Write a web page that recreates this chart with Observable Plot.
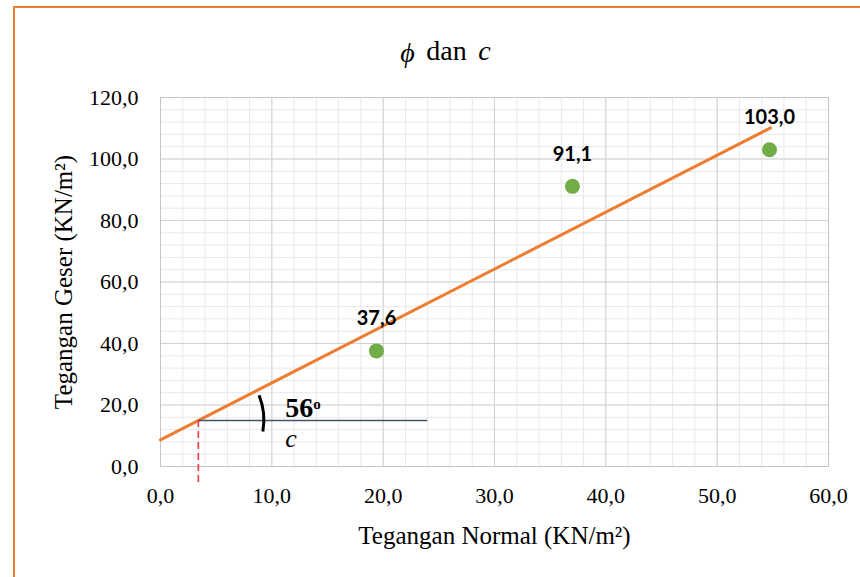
<!DOCTYPE html>
<html>
<head>
<meta charset="utf-8">
<script src="https://cdn.jsdelivr.net/npm/d3@7"></script>
<script src="https://cdn.jsdelivr.net/npm/@observablehq/plot@0.6"></script>
<style>
  html, body { margin: 0; padding: 0; background: #fff; }
  #wrap { position: relative; width: 860px; height: 577px; overflow: hidden; background: #fff; }
  #border { position: absolute; left: 13px; top: 6px; width: 900px; height: 620px;
            border-top: 2.5px solid #ED7D31; border-left: 2.5px solid #ED7D31; pointer-events: none; }
  #chart { position: absolute; left: 0; top: 0; }
</style>
</head>
<body>
<div id="wrap"><div id="chart"></div><div id="border"></div></div>
<script>
// ---- data ----
const normalStress = [19.4, 37.0, 54.7];      // x (KN/m²)
const shearStress  = [37.6, 91.1, 103.0];     // y (KN/m²)
const pointLabels  = ["37,6", "91,1", "103,0"];
const xTicks = [0, 10, 20, 30, 40, 50, 60];
const yTicks = [0, 20, 40, 60, 80, 100, 120];
const xMinorStep = 2;
const yMinorStep = 4;
const trendRange = [0, 54.8];      // trendline extent (forecast back to 0)
const cAt = 3.4;                   // x where cohesion line meets trendline
const hLineEnd = 24;               // end of horizontal reference line
const dashBottom = -5.5;           // red dashed line lower end
const angleText = "56";
const titleText = "dan";

const fmt = d => d3.format(".1f")(d).replace(".", ",");

const pts = normalStress.map((x, i) => ({x, y: shearStress[i], label: pointLabels[i]}));

// linear regression (Excel linear trendline)
const mx = d3.mean(normalStress), my = d3.mean(shearStress);
const b = d3.sum(pts, p => (p.x - mx) * (p.y - my)) / d3.sum(pts, p => (p.x - mx) ** 2);
const a = my - b * mx;
const f = x => a + b * x;
const trend = trendRange.map(x => ({x, y: f(x)}));
const cY = f(cAt);

const xMinor = d3.range(xTicks[0], xTicks[xTicks.length - 1] + 0.001, xMinorStep);
const yMinor = d3.range(yTicks[0], yTicks[yTicks.length - 1] + 0.001, yMinorStep);

const serif = "'Liberation Serif', 'Times New Roman', serif";

const arcMark = (index, {x, y}) => {
  const cx = x(cAt), cy = y(cY);
  const p = d3.path();
  p.arc(cx, cy, 66, -22 * Math.PI / 180, 10 * Math.PI / 180);
  const el = document.createElementNS("http://www.w3.org/2000/svg", "path");
  el.setAttribute("d", p.toString());
  el.setAttribute("fill", "none");
  el.setAttribute("stroke", "#000");
  el.setAttribute("stroke-width", "3");
  return el;
};

const chart = Plot.plot({
  width: 860,
  height: 577,
  marginLeft: 160,
  marginRight: 32,
  marginTop: 97,
  marginBottom: 111,
  x: {domain: [0, 60]},
  y: {domain: [0, 120]},
  style: {fontFamily: serif, fontSize: "22px", color: "#000", background: "transparent", overflow: "visible"},
  marks: [
    Plot.gridX(xMinor, {stroke: "#e8e8e8", strokeOpacity: 1, strokeWidth: 1}),
    Plot.gridY(yMinor, {stroke: "#e8e8e8", strokeOpacity: 1, strokeWidth: 1}),
    Plot.gridX(xTicks, {stroke: "#d2d2d2", strokeOpacity: 1, strokeWidth: 1}),
    Plot.gridY(yTicks, {stroke: "#d2d2d2", strokeOpacity: 1, strokeWidth: 1}),
    Plot.frame({stroke: "#c4c4c4"}),
    Plot.axisX(xTicks, {tickSize: 0, tickPadding: 21, tickFormat: fmt, label: null, fontSize: 22}),
    Plot.axisY(yTicks, {tickSize: 0, tickPadding: 22, tickFormat: fmt, label: null, fontSize: 22}),
    // axis titles
    Plot.text(["Tegangan Normal (KN/m²)"], {frameAnchor: "bottom", dy: 69, fontSize: 25, lineAnchor: "middle", textAnchor: "middle"}),
    Plot.text(["Tegangan Geser (KN/m²)"], {frameAnchor: "left", dx: -97, rotate: -90, fontSize: 25, lineAnchor: "middle", textAnchor: "middle"}),
    // title
    Plot.text([titleText], {frameAnchor: "top", dx: -48, dy: -46, fontSize: 28, lineAnchor: "middle", textAnchor: "middle"}),
    Plot.text(["ϕ"], {frameAnchor: "top", dx: -87, dy: -44, fontSize: 28, fontStyle: "italic", lineAnchor: "middle", textAnchor: "middle"}),
    Plot.text(["c"], {frameAnchor: "top", dx: -10, dy: -46, fontSize: 28, fontStyle: "italic", lineAnchor: "middle", textAnchor: "middle"}),
    // trendline
    Plot.line(trend, {x: "x", y: "y", stroke: "#ED7D31", strokeWidth: 3}),
    // cohesion construction
    Plot.ruleY([cY], {x1: cAt, x2: hLineEnd, stroke: "#44546A", strokeWidth: 1.5}),
    Plot.ruleX([cAt], {y1: cY, y2: dashBottom, stroke: "#F0393B", strokeWidth: 1.6, strokeDasharray: "7,4"}),
    arcMark,
    Plot.text([angleText], {x: () => cAt, y: () => cY, dx: 87, dy: -12, textAnchor: "start", lineAnchor: "middle", fontSize: 28, fontWeight: "bold"}),
    Plot.text(["o"], {x: () => cAt, y: () => cY, dx: 115, dy: -16, textAnchor: "start", lineAnchor: "middle", fontSize: 15, fontWeight: "bold"}),
    Plot.text(["c"], {x: () => cAt, y: () => cY, dx: 87, dy: 18, textAnchor: "start", lineAnchor: "middle", fontSize: 26, fontStyle: "italic"}),
    // points + labels
    Plot.dot(pts, {x: "x", y: "y", r: 7.5, fill: "#70AD47", stroke: "none"}),
    Plot.text(pts, {x: "x", y: "y", text: "label", dy: -32, lineAnchor: "middle", fontFamily: "Lato, 'Open Sans', sans-serif", fontWeight: "bold", fontSize: 20})
  ]
});
document.getElementById("chart").appendChild(chart);
</script>
</body>
</html>
